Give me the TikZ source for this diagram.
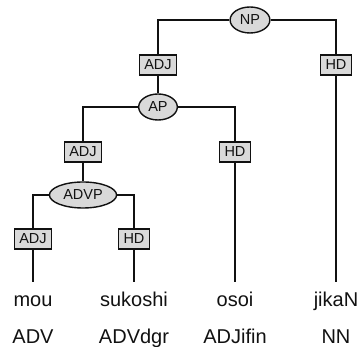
\documentclass[tikz,border=0pt]{standalone}
\usepackage{fontspec}
\setmainfont{Liberation Sans}
\usetikzlibrary{shapes.geometric}
\definecolor{treefill}{HTML}{D9D9D9}
\definecolor{treeink}{HTML}{111111}

\begin{document}
\begin{tikzpicture}[
  x=1pt,
  y=-1pt,
  every node/.style={treeink},
  link/.style={treeink, line width=1.5pt},
  cat/.style={ellipse, draw=treeink, fill=treefill, line width=1.4pt,
              inner xsep=4pt, inner ysep=2pt, minimum height=26pt,
              font=\fontsize{14.5}{16}\selectfont},
  func/.style={rectangle, draw=treeink, fill=treefill, line width=1.4pt,
               inner xsep=5pt, inner ysep=0pt, minimum height=20pt,
               font=\fontsize{14.5}{16}\selectfont},
  word/.style={anchor=base, inner xsep=0pt, inner ysep=11pt,
               text height=14pt, text depth=4pt,
               font=\fontsize{20}{22}\selectfont},
  tag/.style={anchor=base, inner sep=0pt,
              font=\fontsize{20}{22}\selectfont}
]
  % ---- frame of the picture ----
  \useasboundingbox (0,0) rectangle (360,347);

  % ---- phrase nodes ----
  \node[cat] (np) at (250,20) {NP};
  \node[cat] (ap) at (158,107) {AP};
  \node[cat] (advp) at (83,195) {ADVP};

  % ---- function labels ----
  \node[func] (adjnp) at (158,65) {ADJ};
  \node[func] (hdnp) at (336,65) {HD};
  \node[func] (adjap) at (83,152) {ADJ};
  \node[func] (hdap) at (235,152) {HD};
  \node[func] (adjadvp) at (33,239) {ADJ};
  \node[func] (hdadvp) at (134,239) {HD};

  % ---- words and their tags ----
  \node[word] (mou) at (33,307) {mou};
  \node[word] (sukoshi) at (134,307) {sukoshi};
  \node[word] (osoi) at (235,307) {osoi};
  \node[word] (jikan) at (336,307) {jikaN};
  \node[tag] (tmou) at (33,344) {ADV};
  \node[tag] (tsukoshi) at (134,344) {ADVdgr};
  \node[tag] (tosoi) at (235,344) {ADJifin};
  \node[tag] (tjikan) at (336,344) {NN};

  % ---- edges ----
  \draw[link] (np) -| (adjnp);
  \draw[link] (np) -| (hdnp);
  \draw[link] (adjnp) -- (ap);
  \draw[link] (hdnp) -- (jikan);
  \draw[link] (ap) -| (adjap);
  \draw[link] (ap) -| (hdap);
  \draw[link] (adjap) -- (advp);
  \draw[link] (hdap) -- (osoi);
  \draw[link] (advp) -| (adjadvp);
  \draw[link] (advp) -| (hdadvp);
  \draw[link] (adjadvp) -- (mou);
  \draw[link] (hdadvp) -- (sukoshi);
\end{tikzpicture}
\end{document}
